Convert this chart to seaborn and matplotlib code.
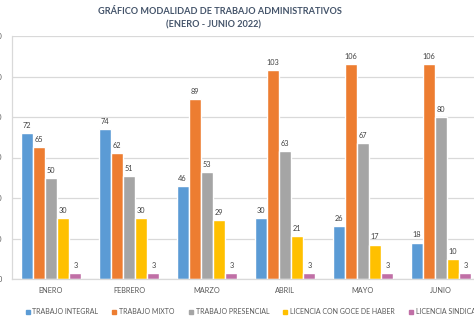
import matplotlib
matplotlib.use("Agg")
import matplotlib.pyplot as plt
from matplotlib.lines import Line2D
import pandas as pd
import seaborn as sns

months = ["ENERO", "FEBRERO", "MARZO", "ABRIL", "MAYO", "JUNIO"]
series_names = [
    "TRABAJO INTEGRAL",
    "TRABAJO MIXTO",
    "TRABAJO PRESENCIAL",
    "LICENCIA CON GOCE DE HABER",
    "LICENCIA SINDICAL",
]
trabajo_integral = [72, 74, 46, 30, 26, 18]
trabajo_mixto = [65, 62, 89, 103, 106, 106]
trabajo_presencial = [50, 51, 53, 63, 67, 80]
licencia_goce = [30, 30, 29, 21, 17, 10]
licencia_sindical = [3, 3, 3, 3, 3, 3]
y_ticks = [0, 20, 40, 60, 80, 100, 120]

colors = ["#5B9BD5", "#ED7D31", "#A5A5A5", "#FFC000", "#C06FA6"]

series_values = [trabajo_integral, trabajo_mixto, trabajo_presencial,
                 licencia_goce, licencia_sindical]
rows = []
for name, vals in zip(series_names, series_values):
    for m, v in zip(months, vals):
        rows.append({"mes": m, "modalidad": name, "valor": v})
df = pd.DataFrame(rows)

sns.set_theme(style="white")
plt.rcParams["font.family"] = ["Lato", "DejaVu Sans"]

W, H = 474, 324
fig = plt.figure(figsize=(W / 100, H / 100), dpi=100)
fig.patch.set_facecolor("white")

# plot area deliberately runs slightly past the right edge of the canvas
left_px, right_px, top_px, bottom_px = 12, 480, 36, 279
ax = fig.add_axes([left_px / W, 1 - bottom_px / H,
                   (right_px - left_px) / W, (bottom_px - top_px) / H])

sns.barplot(data=df, x="mes", y="valor", hue="modalidad",
            order=months, hue_order=series_names, palette=colors,
            width=0.78, saturation=1, ax=ax, legend=False)

ax.set_ylim(0, 120)
ax.set_xlim(-0.5, 5.5)
ax.set_yticks(y_ticks)
ax.yaxis.grid(True, color="#D9D9D9", linewidth=0.9)
ax.set_axisbelow(True)
ax.set_xlabel("")
ax.set_ylabel("")
for s in ["top", "right"]:
    ax.spines[s].set_visible(False)
ax.spines["left"].set_color("#D9D9D9")
ax.spines["bottom"].set_color("#D9D9D9")
ax.spines["left"].set_linewidth(0.9)
ax.spines["bottom"].set_linewidth(0.9)
ax.tick_params(axis="both", length=0, labelsize=5.3, colors="#595959")
ax.tick_params(axis="y", pad=7)
ax.tick_params(axis="x", pad=6)

for cont in ax.containers:
    ax.bar_label(cont, fmt="%d", padding=3, fontsize=5.3, color="#404040")

fig.text(220 / W, 1 - 12 / H, "GRÁFICO MODALIDAD DE TRABAJO ADMINISTRATIVOS",
         ha="center", va="center", fontsize=6.6, fontweight="bold", color="#44546A")
fig.text(214 / W, 1 - 25 / H, "(ENERO - JUNIO 2022)",
         ha="center", va="center", fontsize=6.6, fontweight="bold", color="#44546A")

handles = [Line2D([], [], marker="s", linestyle="none", markersize=3.5,
                  markerfacecolor=c, markeredgecolor=c) for c in colors]
fig.legend(handles, series_names, loc="center left",
           bbox_to_anchor=(22 / W, 1 - 312 / H), ncol=5, frameon=False,
           fontsize=5.0, handlelength=0.8, handletextpad=0.3,
           columnspacing=1.9, labelcolor="#595959", borderaxespad=0)

fig.savefig("out.png", dpi=100, facecolor="white")
